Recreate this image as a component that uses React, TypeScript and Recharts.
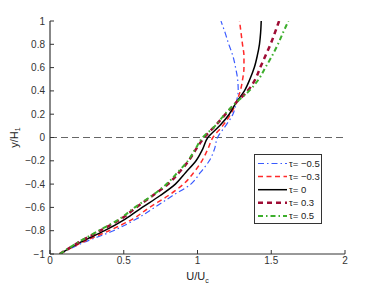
import React from 'react';
import { LineChart, Line, XAxis, YAxis, ReferenceLine, Legend } from 'recharts';

const yLevels = [-1, -0.9, -0.8, -0.7, -0.6, -0.5, -0.4, -0.3, -0.2, -0.1, 0, 0.1, 0.2, 0.3, 0.4, 0.5, 0.6, 0.7, 0.8, 0.9, 1];

const uTauNeg05 = [0.066, 0.23, 0.43, 0.585, 0.71, 0.83, 0.955, 1.02, 1.08, 1.115, 1.136, 1.19, 1.24, 1.262, 1.276, 1.272, 1.258, 1.24, 1.212, 1.187, 1.159];
const uTauNeg03 = [0.066, 0.22, 0.4, 0.56, 0.675, 0.8, 0.905, 0.975, 1.03, 1.07, 1.104, 1.17, 1.225, 1.262, 1.29, 1.306, 1.315, 1.315, 1.305, 1.295, 1.285];
const uTau0 = [0.066, 0.205, 0.37, 0.51, 0.625, 0.745, 0.85, 0.92, 0.99, 1.035, 1.07, 1.15, 1.215, 1.262, 1.318, 1.355, 1.385, 1.405, 1.42, 1.428, 1.432];
const uTau03 = [0.066, 0.195, 0.34, 0.48, 0.585, 0.695, 0.8, 0.875, 0.94, 0.99, 1.045, 1.12, 1.19, 1.262, 1.34, 1.392, 1.425, 1.46, 1.495, 1.525, 1.553];
const uTau05 = [0.066, 0.19, 0.33, 0.47, 0.575, 0.69, 0.79, 0.865, 0.935, 0.985, 1.035, 1.12, 1.185, 1.262, 1.35, 1.415, 1.46, 1.505, 1.545, 1.58, 1.616];

const seriesNames = ['τ= −0.5', 'τ= −0.3', 'τ= 0', 'τ= 0.3', 'τ= 0.5'];
const seriesValues = [uTauNeg05, uTauNeg03, uTau0, uTau03, uTau05];

const xTicks = [0, 0.5, 1, 1.5, 2];
const yTicks = [-1, -0.8, -0.6, -0.4, -0.2, 0, 0.2, 0.4, 0.6, 0.8, 1];

const lineStyles = [
  { color: '#3a5bff', width: 1.2, dash: '6 3 1.5 3' },
  { color: '#ff2a2a', width: 1.5, dash: '5 3.5' },
  { color: '#000000', width: 1.5, dash: undefined as string | undefined },
  { color: '#9e0c34', width: 2.5, dash: '5 4' },
  { color: '#3cae2c', width: 2, dash: '5 3 1.5 3' },
];

const FONT = 'Liberation Sans, Arial, Helvetica, sans-serif';

const fmt = (v: number) => {
  const r = Math.round(v * 10) / 10;
  if (r === 0) return '0';
  return (r < 0 ? '\u2212' : '') + String(Math.abs(r));
};

const renderLegend = () => (
  <svg width={68} height={70} style={{ display: 'block' }}>
    <rect x={0.5} y={0.5} width={67} height={69} fill="#fff" stroke="#333" strokeWidth={1} />
    {seriesNames.map((n, i) => {
      const cy = 9.5 + i * 13.1;
      const s = lineStyles[i];
      return (
        <g key={n}>
          <line x1={4} x2={33} y1={cy} y2={cy} stroke={s.color} strokeWidth={s.width} strokeDasharray={s.dash} />
          <text x={35} y={cy} dominantBaseline="central" fontSize={9.5} fontFamily={FONT} fill="#222">{n}</text>
        </g>
      );
    })}
  </svg>
);

const YLabel = (props: any) => {
  const vb = props.viewBox || { x: 0, y: 0, width: 0, height: 0 };
  const cx = vb.x + 14;
  const cy = vb.y + vb.height / 2;
  return (
    <text x={cx} y={cy} transform={`rotate(-90, ${cx}, ${cy})`} textAnchor="middle" dominantBaseline="central" fontSize={11} fontFamily={FONT} fill="#222">
      y/H<tspan fontSize={7} dy={3}>1</tspan>
    </text>
  );
};

const XLabel = (props: any) => {
  const vb = props.viewBox || { x: 0, y: 0, width: 0, height: 0 };
  const cx = vb.x + vb.width / 2;
  const cy = vb.y + 22;
  return (
    <text x={cx} y={cy} textAnchor="middle" dominantBaseline="central" fontSize={11} fontFamily={FONT} fill="#222">
      U/U<tspan fontSize={7} dy={4}>c</tspan>
    </text>
  );
};

export default function App() {
  const series = seriesValues.map((vals, i) => ({
    name: seriesNames[i],
    data: yLevels.map((y, j) => ({ u: vals[j], y })),
  }));
  const tickStyle = { fontSize: 10, fontFamily: FONT, fill: '#333' };
  return (
    <div style={{ position: 'absolute', left: 0, top: 0, width: 382, height: 287, background: '#fff' }}>
      <LineChart width={382} height={287} margin={{ top: 21, right: 37, bottom: 0, left: 0 }}>
        <XAxis
          type="number"
          dataKey="u"
          domain={[0, 2]}
          ticks={xTicks}
          tickFormatter={fmt}
          height={33}
          tickSize={-4}
          tickMargin={7}
          tick={tickStyle}
          axisLine={{ stroke: '#333' }}
          tickLine={{ stroke: '#333' }}
          allowDataOverflow
          label={<XLabel />}
        />
        <XAxis
          xAxisId="top"
          orientation="top"
          type="number"
          domain={[0, 2]}
          ticks={xTicks}
          height={0}
          tickSize={-4}
          tick={false}
          axisLine={{ stroke: '#111' }}
          tickLine={{ stroke: '#333' }}
          allowDataOverflow
        />
        <YAxis
          type="number"
          domain={[-1, 1]}
          ticks={yTicks}
          tickFormatter={fmt}
          width={50}
          tickSize={-4}
          tickMargin={9}
          tick={tickStyle}
          axisLine={{ stroke: '#111' }}
          tickLine={{ stroke: '#333' }}
          allowDataOverflow
          label={<YLabel />}
        />
        <YAxis
          yAxisId="right"
          orientation="right"
          type="number"
          domain={[-1, 1]}
          ticks={yTicks}
          width={0}
          tickSize={-4}
          tick={false}
          axisLine={{ stroke: '#444' }}
          tickLine={{ stroke: '#333' }}
          allowDataOverflow
        />
        <ReferenceLine y={0} stroke="#666" strokeDasharray="7 4" strokeWidth={1} />
        {series.map((s, i) => (
          <Line
            key={s.name}
            name={s.name}
            data={s.data}
            dataKey="y"
            type="monotoneY"
            stroke={lineStyles[i].color}
            strokeWidth={lineStyles[i].width}
            strokeDasharray={lineStyles[i].dash}
            dot={false}
            activeDot={false}
            isAnimationActive={false}
          />
        ))}
        <Legend
          layout="vertical"
          align="center"
          verticalAlign="middle"
          content={renderLegend}
          wrapperStyle={{ left: 254, top: 154, width: 68, height: 70, margin: 0 }}
        />
      </LineChart>
    </div>
  );
}
